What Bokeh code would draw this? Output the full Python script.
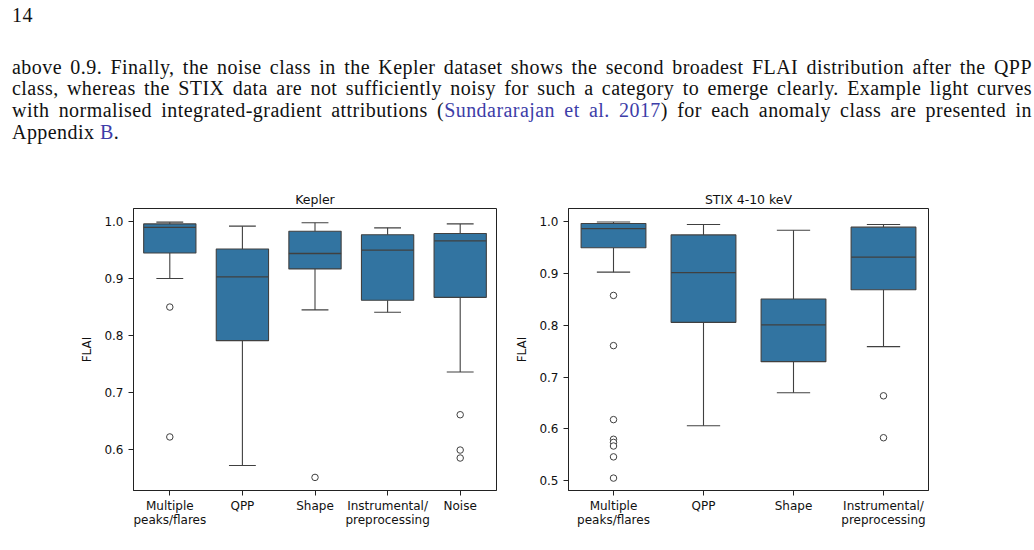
import numpy as np
from bokeh.plotting import figure
from bokeh.models import Div, Spacer, FixedTicker, Range1d, ColumnDataSource, NumeralTickFormatter
from bokeh.layouts import column, row
from bokeh.embed import file_html
from bokeh.resources import INLINE

# ---------------- data ----------------
kepler_classes = ["Multiple\npeaks/flares", "QPP", "Shape", "Instrumental/\npreprocessing", "Noise"]
kepler_whislo = [0.900, 0.572, 0.845, 0.841, 0.736]
kepler_q1 = [0.945, 0.791, 0.917, 0.862, 0.867]
kepler_median = [0.990, 0.903, 0.944, 0.950, 0.966]
kepler_q3 = [0.996, 0.952, 0.983, 0.977, 0.979]
kepler_whishi = [0.999, 0.992, 0.998, 0.989, 0.996]
kepler_outliers = [[0.850, 0.622], [], [0.551], [], [0.661, 0.599, 0.585]]
kepler_yticks = [0.6, 0.7, 0.8, 0.9, 1.0]

stix_classes = ["Multiple\npeaks/flares", "QPP", "Shape", "Instrumental/\npreprocessing"]
stix_whislo = [0.903, 0.606, 0.670, 0.759]
stix_q1 = [0.950, 0.806, 0.730, 0.869]
stix_median = [0.987, 0.902, 0.801, 0.932]
stix_q3 = [0.997, 0.975, 0.851, 0.990]
stix_whishi = [1.000, 0.995, 0.984, 0.995]
stix_outliers = [[0.858, 0.761, 0.618, 0.580, 0.574, 0.567, 0.546, 0.505], [], [], [0.664, 0.583]]
stix_yticks = [0.5, 0.6, 0.7, 0.8, 0.9, 1.0]

BOX_FILL = "#3274a1"
LINE = "#404040"
FONT = "DejaVu Sans"


def make_panel(title, classes, whislo, q1, med, q3, whishi, outliers, yticks, ylo, yhi, frame_w):
    n = len(classes)
    x = np.arange(n)
    p = figure(output_backend="svg", toolbar_location=None,
               frame_width=frame_w, frame_height=282,
               min_border_left=54, min_border_right=10, min_border_top=24, min_border_bottom=45,
               x_range=Range1d(-0.5, n - 0.5), y_range=Range1d(ylo, yhi),
               background_fill_color="white", border_fill_color="white")
    p.title.text = title
    p.title.align = "center"
    p.title.text_font = FONT
    p.title.text_font_size = "12.5px"
    p.title.text_font_style = "normal"
    p.title.text_color = "#111111"
    p.title.standoff = 3
    p.outline_line_color = "#222222"
    p.outline_line_width = 1
    p.xgrid.visible = False
    p.ygrid.visible = False

    src = ColumnDataSource(dict(x=x, lo=whislo, q1=q1, med=med, q3=q3, hi=whishi))
    bw = 0.72
    cw = 0.185
    # whiskers
    p.segment(x0="x", y0="q3", x1="x", y1="hi", source=src, line_color=LINE, line_width=1.1)
    p.segment(x0="x", y0="q1", x1="x", y1="lo", source=src, line_color=LINE, line_width=1.1)
    p.segment(x0=x - cw, y0=whishi, x1=x + cw, y1=whishi, line_color=LINE, line_width=1.1)
    p.segment(x0=x - cw, y0=whislo, x1=x + cw, y1=whislo, line_color=LINE, line_width=1.1)
    # boxes
    p.vbar(x="x", width=bw, top="q3", bottom="q1", source=src,
           fill_color=BOX_FILL, line_color=LINE, line_width=1.1)
    # medians
    p.segment(x0=x - bw / 2, y0=med, x1=x + bw / 2, y1=med, line_color=LINE, line_width=1.3)
    # outliers
    ox, oy = [], []
    for i, vals in enumerate(outliers):
        for v in vals:
            ox.append(i)
            oy.append(v)
    p.scatter(ox, oy, marker="circle", size=6.5, fill_color="white",
              line_color=LINE, line_width=1)

    p.xaxis.ticker = FixedTicker(ticks=list(x))
    p.xaxis.major_label_overrides = {int(i): c for i, c in zip(x, classes)}
    p.yaxis.ticker = FixedTicker(ticks=yticks)
    p.yaxis.formatter = NumeralTickFormatter(format="0.0")
    p.yaxis.axis_label = "FLAI"
    for ax in (p.xaxis, p.yaxis):
        ax.major_tick_out = 5
        ax.major_tick_in = 0
        ax.minor_tick_out = 0
        ax.minor_tick_in = 0
        ax.axis_line_color = "#222222"
        ax.major_tick_line_color = "#222222"
        ax.major_label_text_font = FONT
        ax.major_label_text_font_size = "12px"
        ax.major_label_text_color = "#111111"
        ax.major_label_text_line_height = 1.0
        ax.major_label_standoff = 3
        ax.axis_label_text_font = FONT
        ax.axis_label_text_font_size = "12px"
        ax.axis_label_text_font_style = "normal"
        ax.axis_label_text_color = "#111111"
    p.yaxis.major_label_standoff = 5
    p.yaxis.axis_label_standoff = 7
    return p


p1 = make_panel("Kepler", kepler_classes, kepler_whislo, kepler_q1, kepler_median, kepler_q3,
                kepler_whishi, kepler_outliers, kepler_yticks, 0.528, 1.023, 363)
p2 = make_panel("STIX 4-10 keV", stix_classes, stix_whislo, stix_q1, stix_median, stix_q3,
                stix_whishi, stix_outliers, stix_yticks, 0.481, 1.026, 360)

LINK = "#3d3da8"
base = "position:absolute;left:7px;font-size:20px;line-height:22px;letter-spacing:0.45px;"
line_style = base + "width:1020px;text-align:justify;text-align-last:justify;"
html = f"""
<div style="position:relative;width:1034px;height:174px;font-family:'Liberation Serif',serif;color:#111;">
<div style="{base}top:-1px;">14</div>
<div style="{line_style}top:51px;">above 0.9. Finally, the noise class in the Kepler dataset shows the second broadest FLAI distribution after the QPP</div>
<div style="{line_style}top:72px;">class, whereas the STIX data are not sufficiently noisy for such a category to emerge clearly. Example light curves</div>
<div style="{line_style}top:94px;">with normalised integrated-gradient attributions (<span style="color:{LINK}">Sundararajan et al. 2017</span>) for each anomaly class are presented in</div>
<div style="{base}top:116px;">Appendix <span style="color:{LINK}">B</span>.</div>
</div>
"""
header = Div(text=html, width=1034, height=174)

layout = column(header, row(Spacer(width=77), p1, Spacer(width=6), p2))

with open("out.html", "w") as f:
    f.write(file_html(layout, INLINE))
